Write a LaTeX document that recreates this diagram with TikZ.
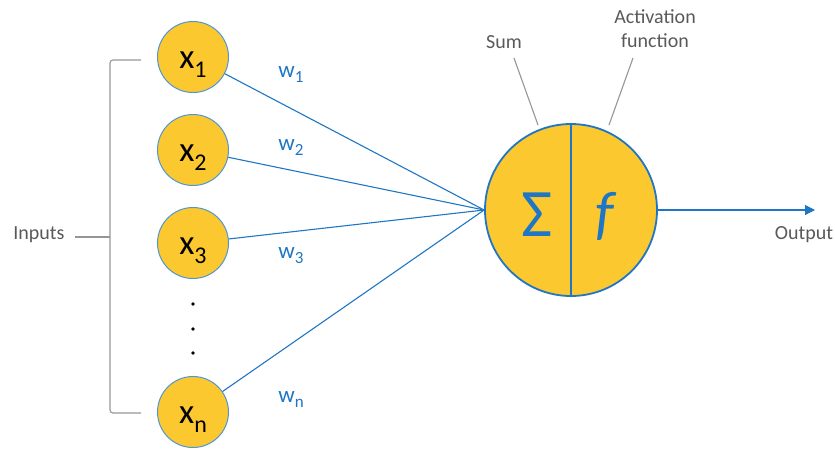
\documentclass[tikz,border=0pt]{standalone}
\usepackage{fontspec}
\setmainfont{Carlito}
\usetikzlibrary{arrows.meta}
\definecolor{nblue}{RGB}{30,118,196}
\definecolor{cblue}{RGB}{80,150,210}
\definecolor{nyellow}{RGB}{252,200,48}
\definecolor{tgray}{RGB}{89,89,89}
\definecolor{lgray}{RGB}{150,150,150}
\newcommand{\xin}[1]{{\fontsize{35}{35}\selectfont x\raisebox{-9pt}{\fontsize{24}{24}\selectfont #1}}}
\newcommand{\wlab}[1]{{\fontsize{23}{23}\selectfont w\raisebox{-5pt}{\fontsize{17}{17}\selectfont #1}}}
\tikzset{
  inpt/.style={circle, draw=cblue, line width=1pt, fill=nyellow, minimum size=71pt, inner sep=0pt, text height=24pt, text depth=2pt},
  wire/.style={draw=nblue, line width=1.1pt},
  wtext/.style={text=nblue, inner sep=0pt},
  gtext/.style={text=tgray, font=\fontsize{20}{24}\selectfont, inner sep=0pt, align=center},
  gline/.style={draw=lgray, line width=1.1pt},
  dotn/.style={circle, fill=black, inner sep=0pt, minimum size=3.6pt}
}
\begin{document}
\begin{tikzpicture}[x=1pt,y=-1pt]
\useasboundingbox (0,0) rectangle (835,448);
% input nodes
\node[inpt] (i1) at (193,57) {\xin{1}};
\node[inpt] (i2) at (193,150) {\xin{2}};
\node[inpt] (i3) at (193,243) {\xin{3}};
\node[inpt] (in) at (193,412) {\xin{n}};
\node[dotn] (d1) at (193,304) {};
\node[dotn] (d2) at (193,329) {};
\node[dotn] (d3) at (193,353) {};
% neuron
\node[circle, draw=nblue, line width=1.8pt, fill=nyellow, minimum size=172pt, inner sep=0pt] (nr) at (571,210) {};
\draw[draw=nblue, line width=1.5pt] (nr.north) -- (nr.south);
\node[text=nblue, font=\fontsize{68}{68}\selectfont, inner sep=0pt] (sig) at (537,215) {Σ};
\node[text=nblue, font=\fontsize{60}{60}\selectfont\itshape, inner sep=0pt] (fn) at (605,216) {f};
\coordinate (hub) at (nr.west);
% wires
\draw[wire] (i1) -- (hub);
\draw[wire] (i2) -- (hub);
\draw[wire] (i3) -- (hub);
\draw[wire] (in) -- (hub);
\node[wtext] (w1) at (291,74) {\wlab{1}};
\node[wtext] (w2) at (291,147) {\wlab{2}};
\node[wtext] (w3) at (291,256) {\wlab{3}};
\node[wtext] (wn) at (291,399) {\wlab{n}};
% output
\coordinate (oend) at (815,210);
\draw[wire, -{Triangle[length=10pt,width=10pt]}] (nr.east) -- (oend);
\node[gtext] (out) at (804,235) {Output};
% labels
\node[gtext] (sum) at (504,42) {Sum};
\node[gtext] (act) at (655,29) {Activation\\function};
\coordinate (s1) at (514,58);
\coordinate (s2) at (538,125);
\coordinate (a1) at (633,58);
\coordinate (a2) at (609,125);
\draw[gline] (s1) -- (s2);
\draw[gline] (a1) -- (a2);
% inputs bracket
\node[gtext] (inp) at (39,235) {Inputs};
\coordinate (bt) at (141,60);
\coordinate (bb) at (141,413);
\coordinate (bm) at (110,237);
\coordinate (il) at (75,237);
\draw[gline, rounded corners=3pt] (bt) -- (110,60) -- (110,413) -- (bb);
\draw[gline] (il) -- (bm);
\end{tikzpicture}
\end{document}
